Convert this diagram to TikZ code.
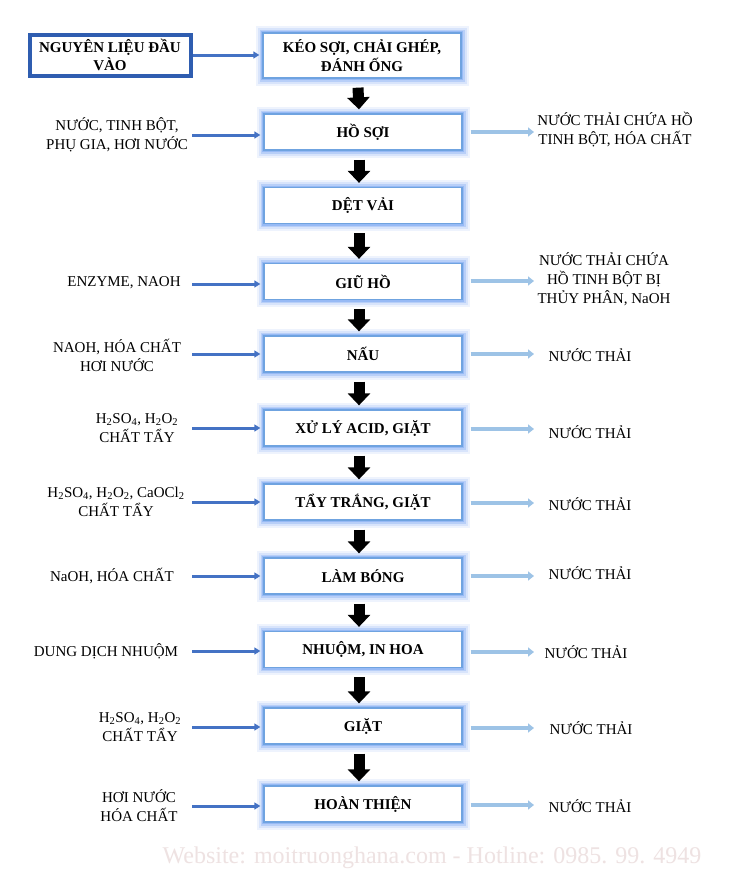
\documentclass[tikz,border=0pt]{standalone}
\usepackage{fontspec}
\setmainfont{Liberation Serif}
\usetikzlibrary{arrows.meta}
\definecolor{boxc}{HTML}{6FA3E0}
\definecolor{glowc}{HTML}{5C93F0}
\definecolor{inc}{HTML}{4472C4}
\definecolor{outc}{HTML}{9DC3E6}
\definecolor{srcc}{HTML}{2F5DB0}
\definecolor{wmc}{HTML}{EEE2E2}
\tikzset{
  stepbox/.style={draw=boxc, line width=1.3pt, fill=white, minimum width=198pt, minimum height=36pt,
    inner sep=2pt, align=center, font=\fontsize{15}{19}\selectfont\bfseries,
    preaction={draw=glowc, line width=15pt, opacity=0.10},
    preaction={draw=glowc, line width=11pt, opacity=0.15},
    preaction={draw=glowc, line width=7pt, opacity=0.25},
    preaction={draw=glowc, line width=4pt, opacity=0.35}},
  srcbox/.style={draw=srcc, line width=4pt, fill=white, minimum width=161pt, minimum height=41pt,
    align=center, inner sep=1pt, font=\fontsize{15}{18}\selectfont\bfseries},
  lab/.style={align=center, font=\fontsize{15}{19}\selectfont, inner sep=0pt},
  blk/.style={line width=11pt, black, -{Triangle[width=22pt,length=12pt]}},
  inarr/.style={line width=3pt, inc, -{Triangle[width=7pt,length=6pt]}},
  outarr/.style={line width=4pt, outc, -{Triangle[width=9pt,length=6pt]}}
}
\begin{document}
\begin{tikzpicture}[x=1pt,y=-1pt]
\fill[white] (0,0) rectangle (730,878);
\useasboundingbox (0,0) rectangle (730,878);

% source box
\node[srcbox] (src) at (110,55) {NGUYÊN LIỆU ĐẦU\\VÀO};

% process boxes
\node[stepbox, minimum height=45pt] (b1) at (362,55.5) {KÉO SỢI, CHẢI GHÉP,\\ĐÁNH ỐNG};
\node[stepbox] (b2) at (363,132) {HỒ SỢI};
\node[stepbox] (b3) at (363,205.5) {DỆT VẢI};
\node[stepbox] (b4) at (363,281.5) {GIŨ HỒ};
\node[stepbox] (b5) at (363,354) {NẤU};
\node[stepbox] (b6) at (363,428) {XỬ LÝ ACID, GIẶT};
\node[stepbox] (b7) at (363,502) {TẨY TRẮNG, GIẶT};
\node[stepbox] (b8) at (363,576) {LÀM BÓNG};
\node[stepbox] (b9) at (363,649.5) {NHUỘM, IN HOA};
\node[stepbox] (b10) at (363,726) {GIẶT};
\node[stepbox] (b11) at (363,804) {HOÀN THIỆN};

% black arrows
\foreach \a/\b in {b1/b2,b2/b3,b3/b4,b4/b5,b5/b6,b6/b7,b7/b8,b8/b9,b9/b10,b10/b11}{
  \draw[blk] ([xshift=-4pt,yshift=-9pt]\a.south) -- ([xshift=-4pt,yshift=4pt]\b.north);
}

% source arrow
\draw[inarr, shorten >=3pt] (src.east) -- (src.east -| b1.west);

% left labels
\node[lab] (l2) at (117,135) {NƯỚC, TINH BỘT,\\PHỤ GIA, HƠI NƯỚC};
\node[lab] (l4) at (124,283) {ENZYME, NAOH};
\node[lab] (l5) at (117,355) {NAOH, HÓA CHẤT\\HƠI NƯỚC};
\node[lab] (l6) at (137,428) {H\textsubscript{2}SO\textsubscript{4}, H\textsubscript{2}O\textsubscript{2}\\CHẤT TẨY};
\node[lab] (l7) at (116,502) {H\textsubscript{2}SO\textsubscript{4}, H\textsubscript{2}O\textsubscript{2}, CaOCl\textsubscript{2}\\CHẤT TẨY};
\node[lab] (l8) at (112,576) {NaOH, HÓA CHẤT};
\node[lab] (l9) at (106,651) {DUNG DỊCH NHUỘM};
\node[lab] (l10) at (140,727) {H\textsubscript{2}SO\textsubscript{4}, H\textsubscript{2}O\textsubscript{2}\\CHẤT TẨY};
\node[lab] (l11) at (139,806) {HƠI NƯỚC\\HÓA CHẤT};

% input arrows
\foreach \k/\y in {2/135,4/284,5/354,6/428,7/502,8/576,9/651,10/727,11/806}{
  \coordinate (in\k) at (192,\y);
  \draw[inarr, shorten >=3pt] (in\k) -- (in\k -| b\k.west);
}

% right labels
\node[lab] (r2) at (615,130) {NƯỚC THẢI CHỨA HỒ\\TINH BỘT, HÓA CHẤT};
\node[lab] (r4) at (604,279) {NƯỚC THẢI CHỨA\\HỒ TINH BỘT BỊ\\THỦY PHÂN, NaOH};
\node[lab] (r5) at (590,355) {NƯỚC THẢI};
\node[lab] (r6) at (590,432) {NƯỚC THẢI};
\node[lab] (r7) at (590,504) {NƯỚC THẢI};
\node[lab] (r8) at (590,573) {NƯỚC THẢI};
\node[lab] (r9) at (586,652) {NƯỚC THẢI};
\node[lab] (r10) at (591,728) {NƯỚC THẢI};
\node[lab] (r11) at (590,806) {NƯỚC THẢI};

% output arrows
\foreach \k/\y in {2/132,4/281,5/354,6/429,7/503,8/576,9/652,10/728,11/805}{
  \coordinate (out\k) at (534,\y);
  \draw[outarr, shorten <=8pt] (out\k -| b\k.east) -- (out\k);
}

% watermark
\node[font=\fontsize{24}{28}\selectfont, text=wmc, inner sep=0pt] (wm) at (432,858) {Website: moitruonghana.com - Hotline: 0985. 99. 4949};
\end{tikzpicture}
\end{document}
